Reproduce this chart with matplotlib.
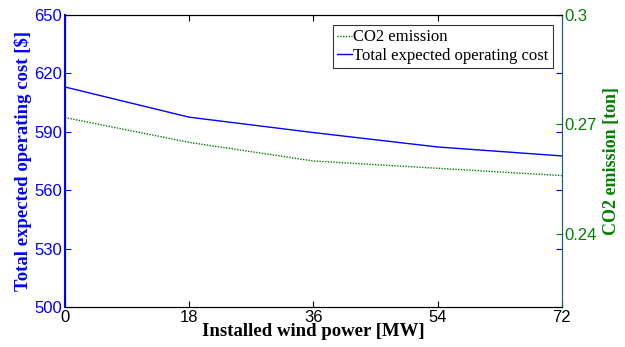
import numpy as np
import matplotlib.pyplot as plt

# Data
wind_power = [0, 18, 36, 54, 72]
total_cost = [613.0, 597.5, 589.6, 582.2, 577.6]
co2_emission = [0.2719, 0.2651, 0.2600, 0.2580, 0.2560]

serif = "Liberation Serif"
sans = "Liberation Sans"

fig = plt.figure(figsize=(6.25, 3.47), dpi=100)
ax1 = fig.add_axes([0.104, 0.1153, 0.795, 0.8415])
ax2 = ax1.twinx()

# Cost on the left axis
l1, = ax1.plot(wind_power, total_cost, color="#0000ff", linewidth=1.0,
               label="Total expected operating cost")
ax1.set_xlim(0, 72)
ax1.set_ylim(500, 650)
ax1.set_xticks([0, 18, 36, 54, 72])
ax1.set_yticks([500, 530, 560, 590, 620, 650])
ax1.tick_params(axis="y", colors="#0000ff", direction="in", right=True,
                labelsize=12, length=4, pad=2)
ax1.tick_params(axis="x", direction="in", top=True, labelsize=12, length=4,
                pad=2)
for lab in ax1.get_xticklabels() + ax1.get_yticklabels():
    lab.set_fontfamily(sans)
ax1.set_xlabel("Installed wind power [MW]", fontfamily=serif,
               fontweight="bold", fontsize=13.5, labelpad=-1)
ax1.set_ylabel("Total expected operating cost [$]", fontfamily=serif,
               fontweight="bold", fontsize=13.5, color="#0000ff", labelpad=2)

# CO2 on the right axis
l2, = ax2.plot(wind_power, co2_emission, color="#008000", linewidth=1.0,
               linestyle=(0, (1, 1)), label="CO2 emission")
ax2.set_ylim(0.22, 0.30)
ax2.set_yticks([0.24, 0.27, 0.30])
ax2.set_yticklabels(["0.24", "0.27", "0.3"])
ax2.tick_params(axis="y", colors="#008000", direction="in", labelsize=12,
                length=4, pad=2)
for lab in ax2.get_yticklabels():
    lab.set_fontfamily(sans)
ax2.set_ylabel("CO2 emission [ton]", fontfamily=serif, fontweight="bold",
               fontsize=13, color="#008000", labelpad=4)

ax2.spines["left"].set_color("#0000ff")
ax2.spines["left"].set_linewidth(1.5)
ax2.spines["right"].set_color("#1f5f6f")
ax1.spines["left"].set_color("#0000ff")
ax1.spines["right"].set_color("#1f5f6f")

leg = ax2.legend([l2, l1], ["CO2 emission", "Total expected operating cost"],
                 loc="upper right", bbox_to_anchor=(0.982, 0.965),
                 prop={"family": serif, "size": 12}, frameon=True,
                 fancybox=False, handlelength=0.9, handletextpad=0.1,
                 borderpad=0.25, labelspacing=0.15, borderaxespad=0)
leg.get_frame().set_edgecolor("black")
leg.get_frame().set_linewidth(0.8)

plt.savefig("out.png", dpi=100)
